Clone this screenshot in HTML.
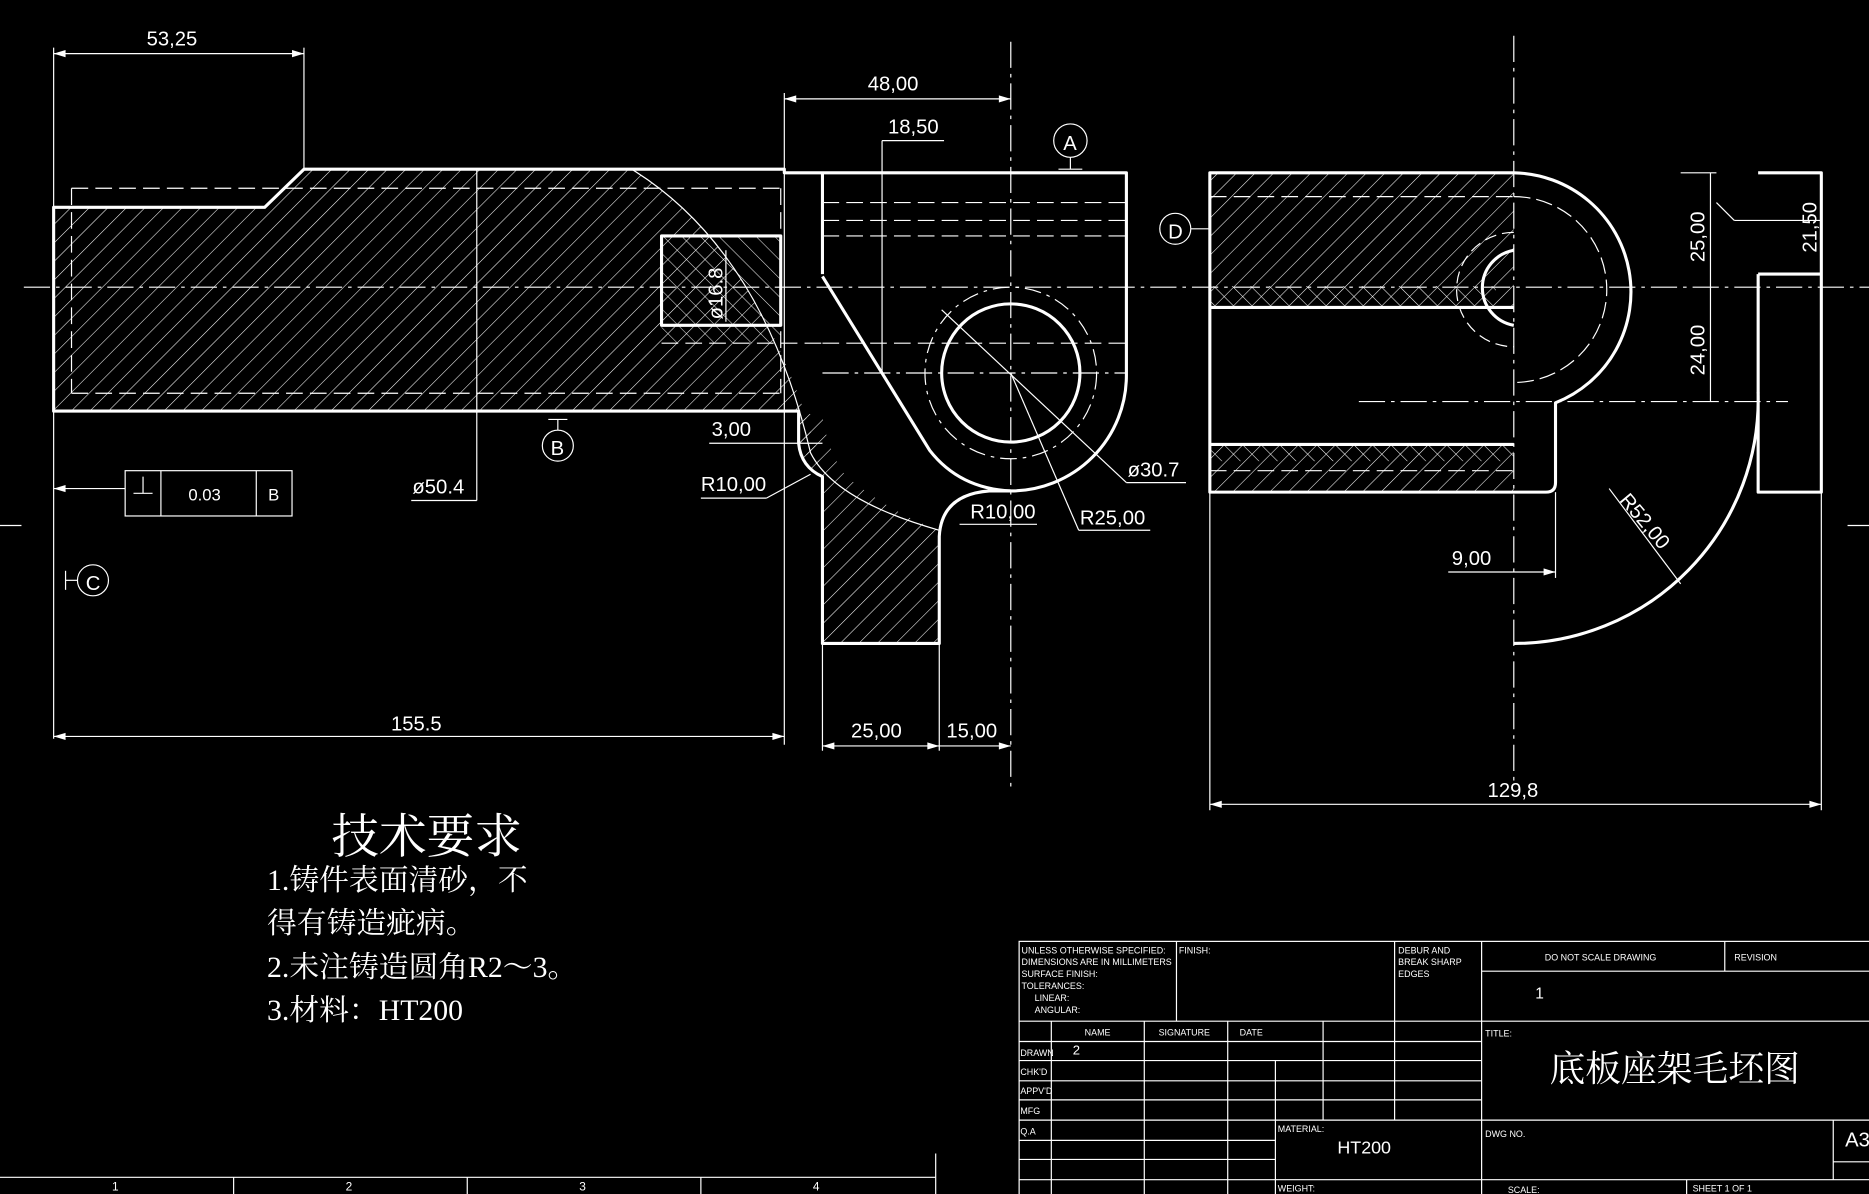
<!DOCTYPE html>
<html><head><meta charset="utf-8"><style>
html,body{margin:0;padding:0;background:#000;}
svg{display:block}
text{fill:#fff;font-family:"Liberation Sans",sans-serif;}
.cj{font-family:"Liberation Serif","Noto Serif CJK SC",serif;}
</style></head><body>
<svg width="1869" height="1194" viewBox="0 0 1568 1002" preserveAspectRatio="none" xmlns="http://www.w3.org/2000/svg">
<defs>
<pattern id="h" patternUnits="userSpaceOnUse" width="11" height="11" patternTransform="rotate(45)">
<line x1="0" y1="0" x2="0" y2="11" stroke="#fff" stroke-width="0.9"/>
</pattern>
<pattern id="h2" patternUnits="userSpaceOnUse" width="11" height="11" patternTransform="rotate(-45)">
<line x1="0" y1="0" x2="0" y2="11" stroke="#fff" stroke-width="0.9"/>
</pattern>
</defs>
<rect width="1568" height="1002" fill="#000"/>

<!-- hatch fills -->
<path d="M45,174 L222,174 L255,142 L530,142 Q640,210 690,395 L670,375 L670,345 L45,345 Z" fill="url(#h)"/>
<rect x="555" y="198" width="100" height="90" fill="url(#h2)" opacity="0.9"/>
<path d="M670,345 L670,372 Q672,392 690,400 L690,540 L788,540 L788,445 Q750,432 710,400 Q695,380 690,350 Z" fill="url(#h)"/>
<rect x="1015" y="145" width="255" height="113" fill="url(#h)"/>
<rect x="1015" y="373" width="255" height="40" fill="url(#h)"/>
<rect x="1015" y="240" width="240" height="18" fill="url(#h2)"/>
<rect x="1015" y="373" width="255" height="14" fill="url(#h2)"/>

<g stroke="#fff" fill="none" stroke-width="1">
<!-- center lines -->
<line x1="20" y1="241" x2="1568" y2="241" stroke-dasharray="22,5,3,5"/>
<line x1="848" y1="35" x2="848" y2="665" stroke-dasharray="22,5,3,5"/>
<line x1="1270" y1="30" x2="1270" y2="660" stroke-dasharray="22,5,3,5"/>
<line x1="690" y1="313" x2="945" y2="313" stroke-dasharray="22,5,3,5"/>
<line x1="1140" y1="337" x2="1500" y2="337" stroke-dasharray="22,5,3,5"/>
<line x1="0" y1="441" x2="18" y2="441"/><line x1="1550" y1="441" x2="1568" y2="441"/>
<!-- hidden lines -->
<g stroke-dasharray="14,6">
<line x1="60" y1="158" x2="655" y2="158"/>
<line x1="60" y1="330" x2="655" y2="330"/>
<line x1="60" y1="158" x2="60" y2="330"/>
<line x1="655" y1="158" x2="655" y2="330"/>
<line x1="690" y1="170" x2="945" y2="170"/>
<line x1="690" y1="185" x2="945" y2="185"/>
<line x1="690" y1="198" x2="945" y2="198"/>
<line x1="690" y1="288" x2="945" y2="288"/>
<line x1="555" y1="288" x2="690" y2="288"/>
<line x1="1015" y1="165" x2="1270" y2="165"/>
<line x1="1015" y1="395" x2="1270" y2="395"/>
</g>
<path d="M530,142 Q640,210 680,380 Q700,420 788,445" />
<circle cx="848" cy="313" r="72" stroke-dasharray="14,5,3,5"/>
<path d="M1270,165 A78,78 0 0 1 1270,321" stroke-dasharray="14,5"/>
<path d="M1270,195 A48,48 0 0 0 1270,291" stroke-dasharray="10,5"/>
</g>

<g stroke="#fff" fill="none" stroke-width="2.6" stroke-linejoin="round">
<!-- front-left outline -->
<path d="M45,174 L222,174 L255,142 L658,142 L658,145 L945,145 L945,315 A97,97 0 0 1 848,412 L830,412 Q790,415 788,450 L788,540 L690,540 L690,400 Q672,392 670,372 L670,345 L45,345 Z"/>
<line x1="690" y1="145" x2="690" y2="230"/>
<path d="M690,232 L780,378 Q805,410 848,412"/>
<circle cx="848" cy="313" r="58"/>
<rect x="555" y="198" width="100" height="75"/>
<!-- side view -->
<path d="M1015,145 L1270,145 A100,100 0 0 1 1305,338 L1305,405 Q1305,413 1297,413 L1015,413 Z"/>
<line x1="1015" y1="258" x2="1270" y2="258"/>
<line x1="1015" y1="373" x2="1270" y2="373"/>
<path d="M1270,210 A32,32 0 0 0 1270,273"/>
<path d="M1475,145 L1528,145 L1528,413 L1475,413 L1475,330 A205,205 0 0 1 1270,540"/>
<path d="M1475,230 L1528,230" />
<line x1="1475" y1="230" x2="1475" y2="330"/>
</g>

<!-- dimensions -->
<g stroke="#fff" fill="none" stroke-width="1">
<line x1="45" y1="40" x2="45" y2="620"/>
<line x1="255" y1="40" x2="255" y2="142"/>
<line x1="45" y1="45" x2="255" y2="45"/>
<line x1="658" y1="78" x2="658" y2="625"/>
<line x1="658" y1="83" x2="848" y2="83"/>
<line x1="740" y1="118" x2="792" y2="118"/><line x1="740" y1="118" x2="740" y2="313"/>
<line x1="45" y1="618" x2="658" y2="618"/>
<line x1="690" y1="540" x2="690" y2="630"/>
<line x1="788" y1="540" x2="788" y2="630"/>
<line x1="690" y1="626" x2="848" y2="626"/>
<line x1="400" y1="142" x2="400" y2="420"/>
<line x1="345" y1="420" x2="400" y2="420"/>
<line x1="609" y1="210" x2="609" y2="270"/>
<line x1="595" y1="372" x2="690" y2="372"/>
<line x1="588" y1="418" x2="643" y2="418"/><line x1="643" y1="418" x2="680" y2="398"/>
<line x1="790" y1="260" x2="945" y2="405"/><line x1="945" y1="405" x2="995" y2="405"/>
<line x1="848" y1="313" x2="905" y2="445"/><line x1="905" y1="445" x2="965" y2="445"/>
<line x1="805" y1="440" x2="870" y2="440"/>
<line x1="45" y1="410" x2="105" y2="410"/>
<rect x="105" y="395" width="140" height="38"/>
<line x1="135" y1="395" x2="135" y2="433"/><line x1="215" y1="395" x2="215" y2="433"/>
<line x1="1015" y1="258" x2="1015" y2="680"/>
<line x1="1528" y1="413" x2="1528" y2="680"/>
<line x1="1015" y1="675" x2="1528" y2="675"/>
<line x1="1305" y1="413" x2="1305" y2="485"/>
<line x1="1215" y1="480" x2="1305" y2="480"/>
<line x1="1435" y1="145" x2="1435" y2="337"/>
<line x1="1410" y1="145" x2="1440" y2="145"/>
<line x1="1440" y1="170" x2="1455" y2="185"/><line x1="1455" y1="185" x2="1528" y2="185"/>
<line x1="1350" y1="410" x2="1410" y2="490"/>
<circle cx="898" cy="118" r="14"/><line x1="898" y1="132" x2="898" y2="142"/><line x1="888" y1="142" x2="908" y2="142"/>
<circle cx="468" cy="374" r="13"/><line x1="468" y1="352" x2="468" y2="361"/><line x1="460" y1="352" x2="476" y2="352"/>
<circle cx="986" cy="192" r="13"/><line x1="999" y1="192" x2="1015" y2="192"/>
<circle cx="78" cy="487" r="13"/><line x1="55" y1="487" x2="65" y2="487"/><line x1="55" y1="479" x2="55" y2="495"/>
<line x1="112" y1="414" x2="128" y2="414"/><line x1="120" y1="414" x2="120" y2="400"/>
<line x1="0" y1="988" x2="785" y2="988"/><line x1="785" y1="968" x2="785" y2="1002"/>
<line x1="196" y1="988" x2="196" y2="1002"/><line x1="392" y1="988" x2="392" y2="1002"/><line x1="588" y1="988" x2="588" y2="1002"/>
</g>
<g fill="#fff">
<polygon points="45,45 55,42 55,48"/><polygon points="255,45 245,42 245,48"/>
<polygon points="658,83 668,80 668,86"/><polygon points="848,83 838,80 838,86"/>
<polygon points="45,618 55,615 55,621"/><polygon points="658,618 648,615 648,621"/>
<polygon points="690,626 700,623 700,629"/><polygon points="788,626 778,623 778,629"/><polygon points="848,626 838,623 838,629"/>
<polygon points="1015,675 1025,672 1025,678"/><polygon points="1528,675 1518,672 1518,678"/>
<polygon points="45,410 55,407 55,413"/>
<polygon points="1305,480 1295,477 1295,483"/>
</g>

<g font-size="17">
<text x="123" y="38">53,25</text>
<text x="728" y="76">48,00</text>
<text x="745" y="112">18,50</text>
<text x="892" y="126" font-size="17">A</text>
<text x="462" y="382">B</text>
<text x="980" y="200">D</text>
<text x="72" y="495">C</text>
<text x="597" y="366">3,00</text>
<text x="588" y="412">R10,00</text>
<text x="346" y="414">ø50.4</text>
<text x="946" y="400">ø30.7</text>
<text x="906" y="440">R25,00</text>
<text x="814" y="435">R10,00</text>
<text x="328" y="613">155.5</text>
<text x="714" y="619">25,00</text>
<text x="794" y="619">15,00</text>
<text x="1248" y="669">129,8</text>
<text x="1218" y="474">9,00</text>
<text x="158" y="420" font-size="14">0.03</text>
<text x="225" y="420" font-size="14">B</text>
<text x="0" y="0" transform="translate(606,268) rotate(-90)">ø16.8</text>
<text x="0" y="0" transform="translate(1430,220) rotate(-90)">25,00</text>
<text x="0" y="0" transform="translate(1430,315) rotate(-90)">24,00</text>
<text x="0" y="0" transform="translate(1524,212) rotate(-90)">21,50</text>
<text x="0" y="0" transform="translate(1358,420) rotate(50)">R52,00</text>
</g>

<text class="cj" x="278" y="716" font-size="40">技术要求</text>
<text class="cj" x="224" y="747" font-size="25">1.铸件表面清砂，不</text>
<text class="cj" x="224" y="783" font-size="25">得有铸造疵病。</text>
<text class="cj" x="224" y="820" font-size="25">2.未注铸造圆角R2～3。</text>
<text class="cj" x="224" y="856" font-size="25">3.材料：HT200</text>

<!-- bottom strip numbers -->
<g font-size="10"><text x="94" y="999">1</text><text x="290" y="999">2</text><text x="486" y="999">3</text><text x="682" y="999">4</text></g>

<!-- title block -->
<g stroke="#fff" fill="none" stroke-width="1">
<rect x="855" y="790" width="720" height="220"/>
<line x1="987" y1="790" x2="987" y2="857"/>
<line x1="1170" y1="790" x2="1170" y2="940"/>
<line x1="1243" y1="790" x2="1243" y2="1002"/>
<line x1="1447" y1="790" x2="1447" y2="815"/>
<line x1="1243" y1="815" x2="1568" y2="815"/>
<line x1="855" y1="857" x2="1568" y2="857"/>
<line x1="855" y1="874" x2="1243" y2="874"/>
<line x1="855" y1="890" x2="1243" y2="890"/>
<line x1="855" y1="907" x2="1243" y2="907"/>
<line x1="855" y1="923" x2="1243" y2="923"/>
<line x1="855" y1="940" x2="1568" y2="940"/>
<line x1="855" y1="957" x2="1070" y2="957"/>
<line x1="855" y1="973" x2="1070" y2="973"/>
<line x1="855" y1="990" x2="1568" y2="990"/>
<line x1="1538" y1="940" x2="1538" y2="990"/>
<line x1="1538" y1="975" x2="1568" y2="975"/>
<line x1="882" y1="857" x2="882" y2="1002"/>
<line x1="960" y1="857" x2="960" y2="1002"/>
<line x1="1030" y1="857" x2="1030" y2="1002"/>
<line x1="1070" y1="890" x2="1070" y2="1002"/>
<line x1="1110" y1="857" x2="1110" y2="940"/>
<line x1="1415" y1="990" x2="1415" y2="1002"/>
</g>
<g font-size="7.5" font-family="Liberation Sans Narrow, Liberation Sans, sans-serif">
<text x="857" y="800">UNLESS OTHERWISE SPECIFIED:</text>
<text x="857" y="810">DIMENSIONS ARE IN MILLIMETERS</text>
<text x="857" y="820">SURFACE FINISH:</text>
<text x="857" y="830">TOLERANCES:</text>
<text x="868" y="840">LINEAR:</text>
<text x="868" y="850">ANGULAR:</text>
<text x="989" y="800">FINISH:</text>
<text x="1173" y="800">DEBUR AND</text>
<text x="1173" y="810">BREAK SHARP</text>
<text x="1173" y="820">EDGES</text>
<text x="1296" y="806">DO NOT SCALE DRAWING</text>
<text x="1455" y="806">REVISION</text>
<text x="910" y="869">NAME</text><text x="972" y="869">SIGNATURE</text><text x="1040" y="869">DATE</text>
<text x="856" y="886">DRAWN</text><text x="856" y="902">CHK'D</text><text x="856" y="918">APPV'D</text><text x="856" y="935">MFG</text><text x="856" y="952">Q.A</text>
<text x="1072" y="950">MATERIAL:</text>
<text x="1246" y="870">TITLE:</text>
<text x="1246" y="954">DWG NO.</text>
<text x="1072" y="1000">WEIGHT:</text>
<text x="1265" y="1001">SCALE:</text>
<text x="1420" y="1000">SHEET 1 OF 1</text>
</g>
<text x="1288" y="838" font-size="13">1</text>
<text x="900" y="885" font-size="11">2</text>
<text x="1122" y="968" font-size="15">HT200</text>
<text x="1548" y="962" font-size="17">A3</text>
<text class="cj" x="1300" y="907" font-size="30">底板座架毛坯图</text>
</svg>
</body></html>
